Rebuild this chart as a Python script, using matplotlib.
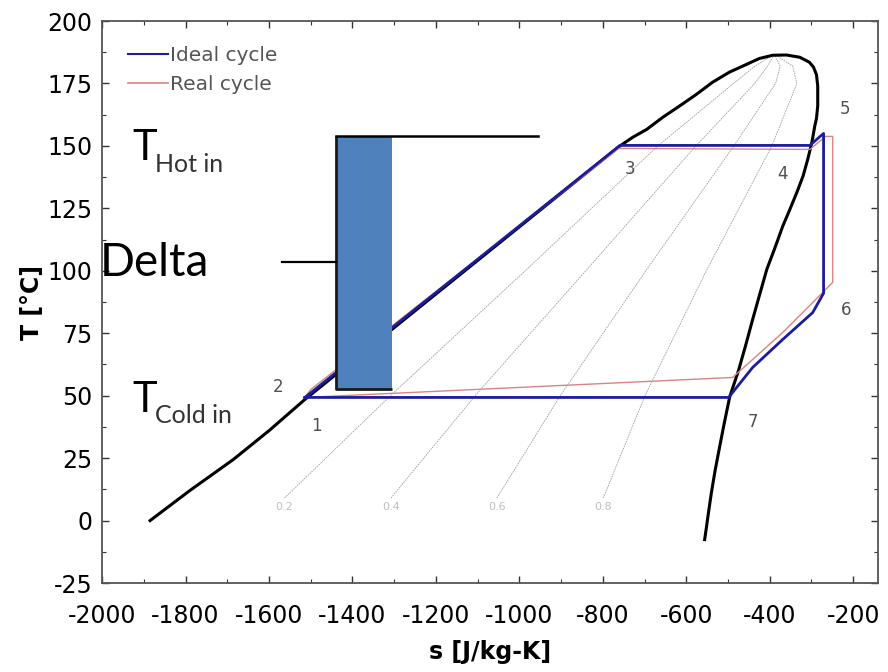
import matplotlib
matplotlib.use("Agg")
import matplotlib.pyplot as plt
from matplotlib.ticker import MultipleLocator
from matplotlib.patches import Rectangle
from matplotlib.lines import Line2D

plt.rcParams['axes.unicode_minus'] = False

# saturation dome, entropy s [J/kg-K] vs temperature T [C]
dome_s = [-1885, -1790, -1686, -1600, -1514, -759, -728, -695, -656, -616, -577, -537,
          -497, -455, -425, -393, -360, -328, -305, -295, -288, -285, -285, -288,
          -292, -299, -309, -320, -335, -352, -369, -388, -407, -425, -441, -458,
          -475, -496, -509, -520, -531, -540, -547, -552, -556]
dome_T = [0, 12, 24.4, 36, 48.5, 150, 153.5, 156.6, 161.5, 166, 170.5, 175.5,
          179.5, 182.7, 185, 186.3, 186.4, 185.5, 183.5, 181.5, 178.5, 174, 166, 161,
          158, 151.4, 144.6, 138, 131.4, 124.5, 117.8, 109, 100.6, 90, 80.5, 70,
          60, 49.5, 39, 29.6, 20, 11, 3, -3, -7.6]

# ideal cycle 1-3-4-5-6-7-1
ideal_s = [-1514, -759, -304, -271, -271, -297, -369, -441, -489, -498, -1514]
ideal_T = [49.3, 150.2, 150.2, 155, 91, 83.3, 72.5, 61.3, 51.3, 49.3, 49.3]

# real cycle
real_s = [-1514, -1500, -762, -304, -266, -249, -249, -297, -369, -441, -489, -1514]
real_T = [49.3, 52.5, 149.0, 148.6, 153.8, 153.8, 95.4, 87.3, 75.3, 64.5, 57.3, 49.3]

# constant quality lines
quality_T = [9, 50, 100, 150, 175, 182, 186.3]
quality_s = {
    '0.2': [-1563, -1309, -986, -668, -487, -435, -393],
    '0.4': [-1308, -1106, -841, -577, -436, -405, -390],
    '0.6': [-1054, -902, -697, -486, -386, -375, -388],
    '0.8': [-799, -699, -552, -395, -335, -345, -385],
}

# state point labels
point_labels = ['1', '2', '3', '4', '5', '6', '7']
point_s = [-1487, -1578, -735, -369, -220, -216, -441]
point_T = [37.7, 53.3, 140.6, 138.6, 164.7, 84.5, 39.3]

# overlay: delta bar and its guide lines
delta_s = [-1439, -1305]
delta_T = [52.5, 153.8]
hot_line_end = -956
delta_line_s = [-1569, -1439]
delta_line_T = 103.4

blue = '#1c1c9c'
red = '#d88484'

fig = plt.figure(figsize=(8.88, 6.72), dpi=100)
ax = fig.add_axes([0.115, 0.1324, 0.874, 0.8363])

for q, s_vals in quality_s.items():
    ax.plot(s_vals, quality_T, color='#a0a0a0', lw=0.6, ls=(0, (2, 1)), zorder=1)
    ax.text(s_vals[0], 5.5, q, fontsize=8, color='#c0c0c0', ha='center', va='center')

ax.plot(dome_s, dome_T, color='black', lw=2.2, zorder=2)
ax.plot(real_s, real_T, color=red, lw=1.0, zorder=3)
ax.plot(ideal_s, ideal_T, color=blue, lw=2.0, zorder=4)

for lab, s, t in zip(point_labels, point_s, point_T):
    ax.text(s, t, lab, fontsize=12, color='#505050', ha='center', va='center')

# delta bar
ax.add_patch(Rectangle((delta_s[0], delta_T[0]), delta_s[1] - delta_s[0],
                       delta_T[1] - delta_T[0], facecolor='#4f81bd',
                       edgecolor='none', zorder=6))
ax.plot([delta_s[0], delta_s[0], delta_s[1]], [delta_T[1], delta_T[0], delta_T[0]],
        color='#1a1a1a', lw=2, zorder=7, solid_capstyle='butt')
ax.plot([delta_s[0], hot_line_end], [delta_T[1], delta_T[1]], color='black', lw=1.8, zorder=7)
ax.plot(delta_line_s, [delta_line_T, delta_line_T], color='black', lw=1.6, zorder=7)

tf = ax.transAxes
ax.text(0.0387, 0.753, 'T', transform=tf, fontsize=30, family='Lato', color='black', va='baseline')
ax.text(0.068, 0.731, 'Hot in', transform=tf, fontsize=18, family='Lato', color='#333333', va='baseline')
ax.text(0.0387, 0.304, 'T', transform=tf, fontsize=30, family='Lato', color='black', va='baseline')
ax.text(0.068, 0.285, 'Cold in', transform=tf, fontsize=18, family='Lato', color='#333333', va='baseline')
ax.text(-0.003, 0.546, 'Delta', transform=tf, fontsize=33, family='Lato', color='black',
        va='baseline', clip_on=False)

handles = [Line2D([], [], color=blue, lw=1.5), Line2D([], [], color=red, lw=1.2)]
leg = ax.legend(handles, ['Ideal cycle', 'Real cycle'], loc='upper left',
                bbox_to_anchor=(0.012, 0.985), frameon=False, fontsize=14.5,
                handlelength=2.0, handletextpad=0.1, labelspacing=0.5, borderaxespad=0.4)
for t in leg.get_texts():
    t.set_color('#555555')

ax.set_xlim(-2000, -140)
ax.set_ylim(-25, 200)
ax.xaxis.set_major_locator(MultipleLocator(200))
ax.xaxis.set_minor_locator(MultipleLocator(100))
ax.yaxis.set_major_locator(MultipleLocator(25))
ax.yaxis.set_minor_locator(MultipleLocator(12.5))
ax.tick_params(which='both', direction='in', top=True, right=True, labelsize=17, color='#333333')
ax.tick_params(which='major', length=5, width=1)
ax.tick_params(which='minor', length=3, width=0.8)
ax.tick_params(axis='x', pad=15)
ax.tick_params(axis='y', pad=7)
for sp in ax.spines.values():
    sp.set_color('#555555')
    sp.set_linewidth(1.3)

ax.set_xlabel('s [J/kg-K]', fontsize=17, fontweight='bold', labelpad=9)
ax.set_ylabel('T [°C]', fontsize=17, fontweight='bold', labelpad=2)

fig.savefig('out.png', dpi=100)
